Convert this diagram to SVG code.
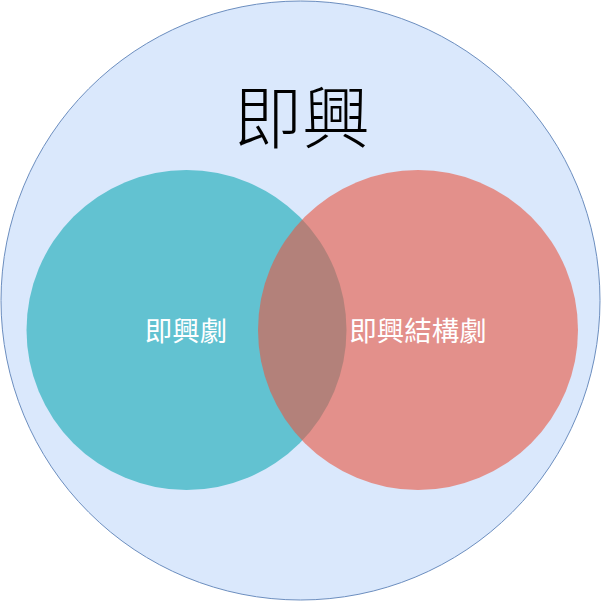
<svg xmlns="http://www.w3.org/2000/svg" width="601" height="601" viewBox="0 0 601 601">
<style>
.lbl{font-family:"Noto Sans CJK TC","Noto Sans CJK SC",sans-serif;fill:#ffffff;font-size:27.5px;text-anchor:middle;dominant-baseline:central}
.title{font-family:"Noto Sans CJK TC","Noto Sans CJK SC",sans-serif;fill:#000000;font-size:68px;font-weight:300;text-anchor:middle;dominant-baseline:central}
</style>
<rect width="601" height="601" fill="#ffffff"/>
<g id="outer">
<circle cx="300.5" cy="300.5" r="299.5" fill="#dae8fc" stroke="#6c8ebf" stroke-width="1"/>
<text class="title" x="302" y="113">即興</text>
</g>
<g id="left">
<circle cx="186.5" cy="330" r="160" fill="#62c2d1"/>
<text class="lbl" x="186" y="329">即興劇</text>
</g>
<g id="right">
<circle cx="418" cy="330" r="160" fill="#e9553f" fill-opacity="0.6"/>
<text class="lbl" x="418" y="329">即興結構劇</text>
</g>
<g id="connectors"></g>
</svg>
